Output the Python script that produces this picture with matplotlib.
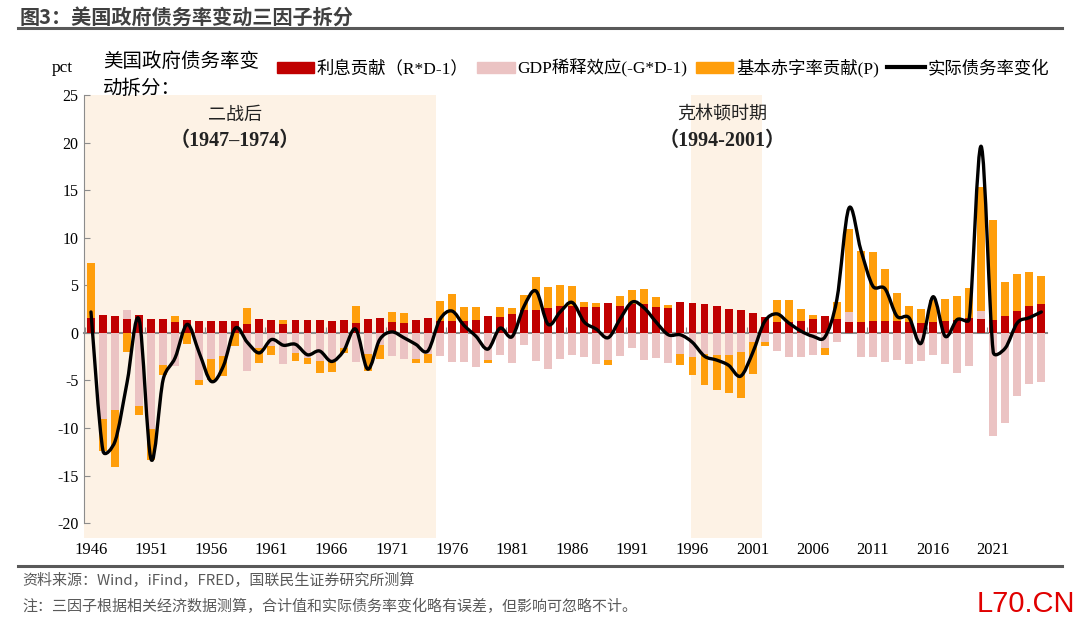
import numpy as np
import matplotlib
matplotlib.use("Agg")
import matplotlib.pyplot as plt
from matplotlib.patches import Patch, PathPatch
from matplotlib.lines import Line2D
from matplotlib.path import Path

plt.rcParams['font.family'] = ['Liberation Serif', 'Noto Sans CJK SC', 'DejaVu Sans']

years = list(range(1946, 2026))

interest = [1.6, 1.85, 1.75, 1.5, 1.85, 1.5, 1.45, 1.15, 1.4, 1.3,
            1.3, 1.3, 1.3, 0.95, 1.45, 1.4, 0.95, 1.4, 1.4, 1.4,
            1.3, 1.4, 1.05, 1.45, 1.55, 1.15, 1.05, 1.4, 1.55, 1.3,
            1.3, 1.3, 1.4, 1.75, 1.7, 2.0, 2.4, 2.4, 2.6, 2.85,
            2.8, 2.7, 2.7, 3.15, 2.85, 3.05, 3.0, 2.7, 2.6, 3.25,
            3.15, 3.05, 2.85, 2.55, 2.4, 2.1, 1.7, 1.15, 1.15, 1.3,
            1.45, 1.75, 1.5, 1.1, 1.15, 1.3, 1.3, 1.2, 1.15, 1.05,
            1.1, 1.2, 1.4, 1.55, 1.45, 1.4, 1.75, 2.25, 2.85, 3.05]

gdp_dilution = [0.0, -9.0, -8.1, 0.9, -7.7, -10.1, -3.4, -3.5, 0.0, -4.9,
                -2.7, -2.45, 0.0, -4.0, -1.6, -1.4, -3.3, -2.1, -2.6, -3.0,
                -3.1, -1.6, -3.1, -2.2, -1.3, -2.45, -2.7, -2.7, -2.2, -2.4,
                -3.1, -3.1, -3.55, -2.8, -2.35, -3.2, -1.3, -2.9, -3.8, -2.7,
                -2.3, -2.5, -3.25, -2.85, -2.45, -1.6, -2.85, -2.6, -3.15, -2.2,
                -2.5, -2.2, -2.3, -2.3, -2.0, -0.95, -0.95, -1.85, -2.55, -2.55,
                -2.3, -1.6, -0.95, 1.05, -2.5, -2.5, -3.05, -2.85, -3.3, -3.0,
                -2.3, -3.3, -4.25, -3.5, 0.8, -10.8, -9.45, -6.6, -5.35, -5.15]

primary = [5.7, -3.4, -6.0, -2.0, -0.9, -3.3, -1.05, 0.65, -1.2, -0.6,
           -2.2, -2.1, -1.4, 1.7, -1.6, -0.95, 0.45, -0.8, -0.7, -1.2,
           -1.0, -0.5, 1.8, -1.85, -1.4, 1.0, 1.0, -0.5, -0.95, 2.05,
           2.8, 1.4, 1.3, -0.35, 1.05, 0.6, 1.55, 3.5, 2.2, 2.15,
           2.15, 0.55, 0.4, -0.55, 1.0, 1.5, 1.65, 1.1, 0.35, -1.15,
           -1.95, -3.3, -3.65, -4.0, -4.8, -3.4, -0.4, 2.3, 2.35, 1.25,
           0.45, -0.75, 1.7, 8.75, 7.5, 7.15, 5.4, 3.0, 1.7, 1.45,
           2.4, 2.35, 2.5, 3.15, 13.1, 10.5, 3.65, 3.95, 3.5, 2.9]

actual = [2.2, -12.4, -11.4, -5.2, 1.4, -13.3, -4.9, -2.6, 0.9, -2.1,
          -5.1, -3.5, 0.5, -1.0, -2.1, -0.7, -1.3, -1.2, -2.3, -1.9,
          -3.0, -1.9, 0.4, -3.8, -0.7, 0.1, -0.5, -1.2, -1.9, 1.4,
          2.3, 0.8, -0.35, -1.7, 0.5, -0.4, 2.8, 4.4, 0.9, 2.2,
          3.2, 1.15, 0.4, -0.5, 1.5, 3.25, 2.6, 1.1, -0.2, -0.2,
          -1.0, -2.45, -2.85, -3.4, -4.55, -2.1, 1.2, 2.0, 1.05, 0.2,
          -0.35, -0.45, 3.5, 13.1, 8.7, 4.9, 4.65, 1.75, 1.6, -1.1,
          3.8, -0.35, 1.4, 1.45, 19.6, -2.0, -1.6, 1.05, 1.6, 2.2]

series_names = ['利息贡献（R*D-1）', 'GDP稀释效应(-G*D-1)', '基本赤字率贡献(P)']
line_name = '实际债务率变化'
yticks = list(range(-20, 30, 5))
shade_periods = [(1945.42, 1974.65), (1995.9, 2001.8)]

C_RED = '#C00000'
C_PINK = '#EBC3C3'
C_ORANGE = '#FF9E0B'
C_SHADE = '#FDF2E5'
GRAY = '#8C8C8C'

fig = plt.figure(figsize=(10.8, 6.23), dpi=100)
ax_l, ax_r, ax_t, ax_b = 84, 1047, 95, 537.5
ax = fig.add_axes([ax_l / 1080, 1 - ax_b / 623, (ax_r - ax_l) / 1080, (ax_b - ax_t) / 623])

x = np.arange(len(years))
ymin, ymax = -21.5, 25
xmin, xmax = -0.58, len(years) - 0.53
ax.set_xlim(xmin, xmax)
ax.set_ylim(ymin, ymax)

for a, b in shade_periods:
    ax.axvspan(a - years[0], b - years[0], color=C_SHADE, zorder=0, lw=0)

pos_bottom = np.zeros(len(years))
neg_bottom = np.zeros(len(years))
for vals, col in [(interest, C_RED), (gdp_dilution, C_PINK), (primary, C_ORANGE)]:
    v = np.array(vals, dtype=float)
    pos = np.where(v > 0, v, 0)
    neg = np.where(v < 0, v, 0)
    ax.bar(x, pos, bottom=pos_bottom, width=0.66, color=col, zorder=2, lw=0)
    ax.bar(x, neg, bottom=neg_bottom, width=0.66, color=col, zorder=2, lw=0)
    pos_bottom += pos
    neg_bottom += neg

# smooth line (Excel-like Bezier smoothing with limited control arms)
sx = (ax_r - ax_l) / (xmax - xmin)
sy = (ax_b - ax_t) / (ymax - ymin)
scale = np.array([sx, sy])
yv = np.array(actual, dtype=float)
pts = np.column_stack([x, yv])
verts = [pts[0]]
codes = [Path.MOVETO]
n = len(pts)


def limit(d, seg, k=0.5):
    dl = np.hypot(*(d * scale))
    sl = np.hypot(*(seg * scale))
    if dl > k * sl and dl > 0:
        d = d * (k * sl / dl)
    return d


for i in range(n - 1):
    p0 = pts[i - 1] if i > 0 else pts[i]
    p1 = pts[i]
    p2 = pts[i + 1]
    p3 = pts[i + 2] if i + 2 < n else pts[i + 1]
    d1 = limit((p2 - p0) / 6.0, p2 - p1)
    d2 = limit((p3 - p1) / 6.0, p2 - p1)
    verts += [p1 + d1, p2 - d2, p2]
    codes += [Path.CURVE4] * 3
ax.add_patch(PathPatch(Path(verts, codes), fill=False, edgecolor='black',
                       lw=2.4, zorder=4, joinstyle='round', capstyle='round'))

# axes styling
for s in ['top', 'right', 'bottom']:
    ax.spines[s].set_visible(False)
ax.spines['left'].set_color(GRAY)
ax.spines['left'].set_bounds(-20, 25)
ax.set_yticks(yticks)
ax.set_yticklabels([str(t) for t in yticks])
ax.tick_params(axis='y', direction='in', length=4, color=GRAY, labelsize=11.5, pad=4)
ax.set_xticks(x[::5])
ax.set_xticklabels([str(y) for y in years[::5]])
ax.tick_params(axis='x', length=0, labelsize=12, pad=3)

# zero axis with category boundary ticks
sec = ax.secondary_xaxis((0 - ymin) / (ymax - ymin))
sec.set_xticks(np.arange(-0.5, len(years), 5))
sec.tick_params(axis='x', direction='in', length=4, color=GRAY, labelbottom=False, labeltop=False)
for s in sec.spines.values():
    s.set_color(GRAY)
    s.set_linewidth(1.5)

# annotations
ax.text(11.97, 22.9, '二战后', ha='center', va='center', fontsize=13,
        family=['Noto Sans CJK SC'], color='#222222', zorder=5)
ax.text(11.97, 20.2, '（1947–1974）', ha='center', va='center', fontsize=14.5, fontweight='bold',
        color='#222222', zorder=5)
ax.text(52.5, 22.9, '克林顿时期', ha='center', va='center', fontsize=13,
        family=['Noto Sans CJK SC'], color='#222222', zorder=5)
ax.text(52.5, 20.2, '（1994-2001）', ha='center', va='center', fontsize=14.5, fontweight='bold',
        color='#222222', zorder=5)

# legend and header texts
fig.text(52 / 1080, 1 - 68 / 623, 'pct', ha='left', va='center', fontsize=12.5)
fig.text(103 / 1080, 1 - 75 / 623, '美国政府债务率变\n动拆分：', ha='left', va='center',
         fontsize=14, linespacing=1.35, family=['Noto Sans CJK SC'])
handles = [Patch(color=C_RED), Patch(color=C_PINK), Patch(color=C_ORANGE),
           Line2D([0], [0], color='black', lw=3)]
fig.legend(handles, series_names + [line_name], loc='center left',
           bbox_to_anchor=(277 / 1080, 1 - 68 / 623), ncol=4, frameon=False,
           borderpad=0, borderaxespad=0, handlelength=2.15, handleheight=0.63,
           handletextpad=0.15, columnspacing=0.5, fontsize=12.5)

# title and rules
fig.text(20 / 1080, 1 - 17 / 623, '图3：美国政府债务率变动三因子拆分', ha='left', va='center',
         fontsize=14.5, fontweight='bold', color='#404040', family=['Noto Sans CJK SC'])
fig.add_artist(Line2D([18 / 1080, 1062 / 1080], [1 - 28 / 623, 1 - 28 / 623],
                      color='#595959', lw=2.2))
fig.add_artist(Line2D([18 / 1080, 1062 / 1080], [1 - 566 / 623, 1 - 566 / 623],
                      color='#595959', lw=2.2))
fig.text(22 / 1080, 1 - 580 / 623, '资料来源：Wind，iFind，FRED，国联民生证券研究所测算', ha='left',
         va='center', fontsize=10.8, color='#595959', family=['Noto Sans CJK SC'])
fig.text(22 / 1080, 1 - 606 / 623, '注：三因子根据相关经济数据测算，合计值和实际债务率变化略有误差，但影响可忽略不计。',
         ha='left', va='center', fontsize=10.8, color='#595959', family=['Noto Sans CJK SC'])
fig.text(1075 / 1080, 1 - 604 / 623, 'L70.CN', ha='right', va='center', fontsize=21,
         color='#E00000', family=['Liberation Sans'])

fig.savefig('out.png', dpi=100)
